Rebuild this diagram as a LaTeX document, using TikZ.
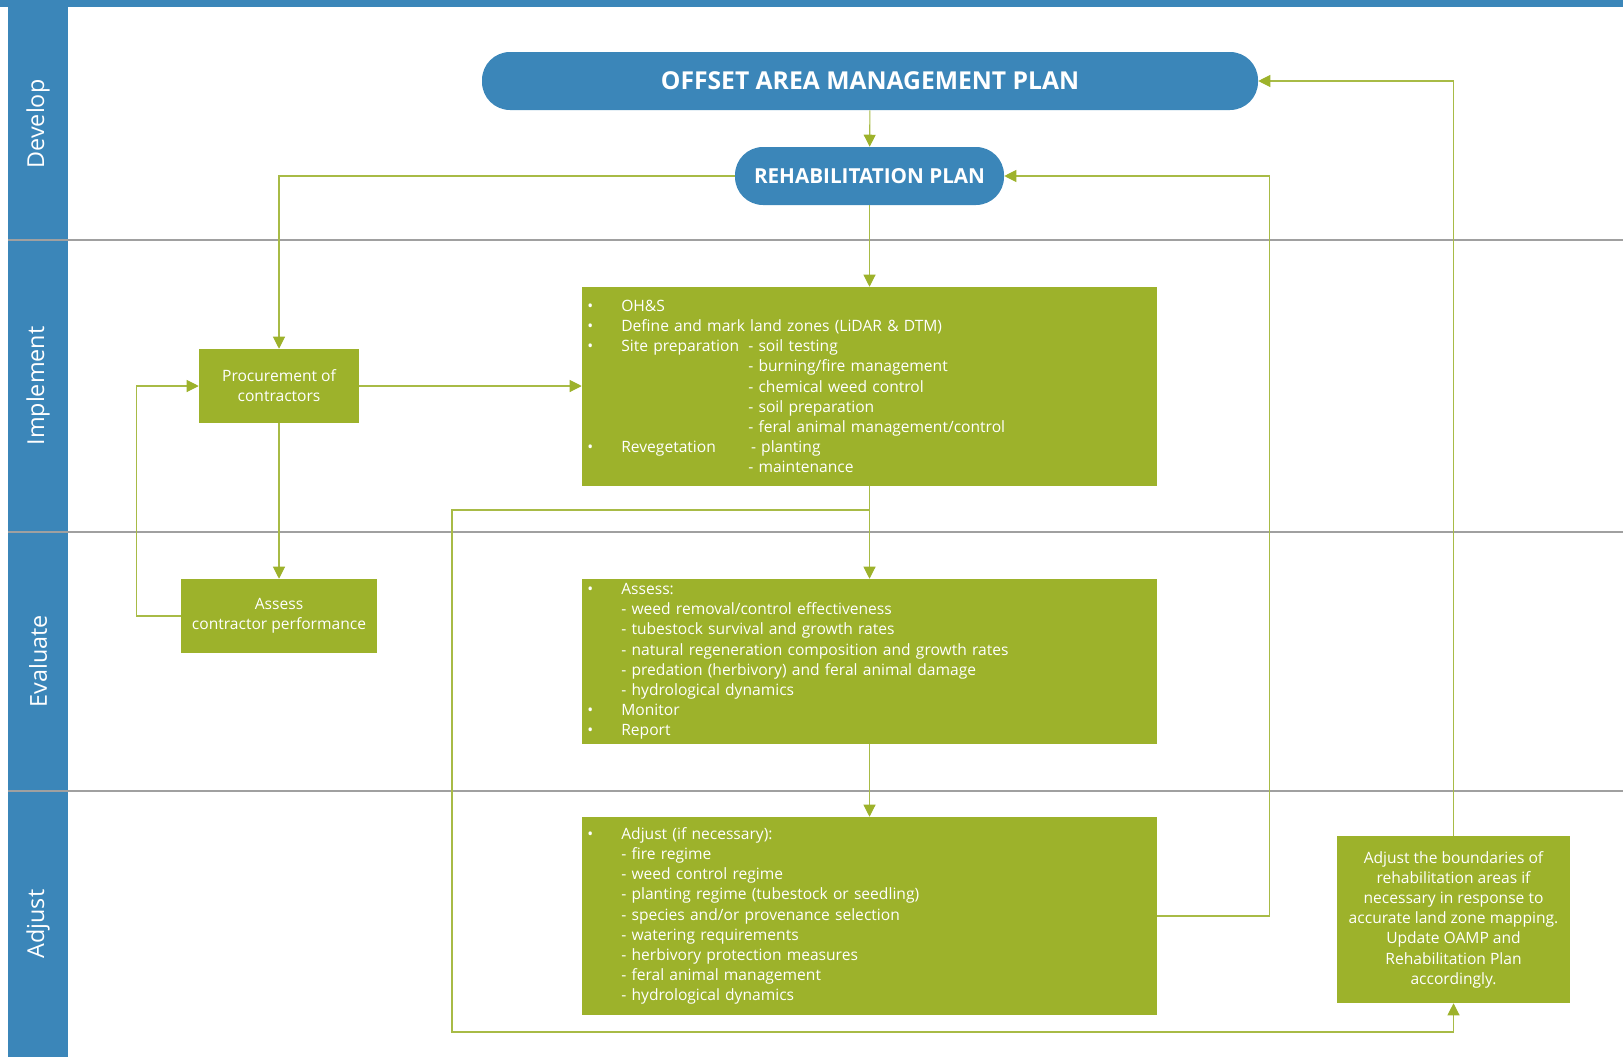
\documentclass[tikz,border=0pt]{standalone}
\usepackage{fontspec}
\setmainfont{Open Sans}
\usetikzlibrary{arrows.meta}
\definecolor{laneblue}{RGB}{59,134,185}
\definecolor{boxgreen}{RGB}{157,178,43}
\definecolor{linegreen}{RGB}{168,187,70}
\definecolor{lanegray}{RGB}{160,160,160}
\newcommand{\listbul}{\makebox[25.5pt][l]{\textbullet}}
\newcommand{\listind}{\hspace*{25.5pt}}
\newcommand{\listsub}{\hspace*{120.75pt}}

\begin{document}
\begin{tikzpicture}[x=0.75pt,y=-0.75pt,>={Triangle[length=9pt,width=9pt,color=boxgreen]}]
	\tikzstyle{lane_line}=[draw=lanegray,line width=1.1pt]
	\tikzstyle{lane_label}=[rotate=90,text=white,font=\fontsize{17.5}{20}\selectfont]
	\tikzstyle{plan_node}=[fill=laneblue,rounded corners=21pt,minimum height=43.5pt,text=white]
	\tikzstyle{step_node}=[fill=boxgreen,text=white,font=\fontsize{11.7}{15.15}\selectfont,align=center,inner sep=0pt]
	\tikzstyle{list_node}=[step_node,align=left,inner xsep=4pt,text width=423.25pt]
	\tikzstyle{link}=[draw=linegreen,line width=0.8pt]
	\useasboundingbox (0,0) rectangle (1623,1057);
	\fill[laneblue] (0,0) rectangle (1623,7);
	\fill[laneblue] (8,0) rectangle (68,1057);
	\foreach \y in {240,532,791}
		\draw[lane_line] (8,\y) -- (1623,\y);
	\node[lane_label] (lab_dev) at (38,124) {Develop};
	\node[lane_label] (lab_imp) at (38,386) {Implement};
	\node[lane_label] (lab_eval) at (38,661) {Evaluate};
	\node[lane_label] (lab_adj) at (38,924) {Adjust};
	\node[plan_node,minimum width=582pt,font=\bfseries\fontsize{18.5}{22}\selectfont] (oamp) at (870,81) {OFFSET AREA MANAGEMENT PLAN};
	\node[plan_node,minimum width=201.75pt,font=\bfseries\fontsize{15.5}{19}\selectfont] (rehab) at (869.5,176) {REHABILITATION PLAN};
	\node[step_node,minimum width=120pt,minimum height=55.5pt] (proc) at (279,386) {Procurement of\\contractors};
	\node[step_node,minimum width=147pt,minimum height=55.5pt] (assess) at (279,616) {Assess\\contractor performance};
	\node[list_node,minimum height=149.25pt] (impl) at (869.5,386.5) {
		\listbul OH\&S\\
		\listbul Define and mark land zones (LiDAR \& DTM)\\
		\listbul \makebox[95.25pt][l]{Site preparation}- soil testing\\
		\listsub - burning/fire management\\
		\listsub - chemical weed control\\
		\listsub - soil preparation\\
		\listsub - feral animal management/control\\
		\listbul \makebox[95.25pt][l]{Revegetation}\hspace{2pt}- planting\\
		\listsub - maintenance};
	\node[list_node,minimum height=123.75pt] (eval) at (869.5,661.5) {
		\listbul Assess:\\
		\listind - weed removal/control effectiveness\\
		\listind - tubestock survival and growth rates\\
		\listind - natural regeneration composition and growth rates\\
		\listind - predation (herbivory) and feral animal damage\\
		\listind - hydrological dynamics\\
		\listbul Monitor\\
		\listbul Report};
	\node[list_node,minimum height=148.5pt] (adj) at (869.5,916) {
		\listbul Adjust (if necessary):\\
		\listind - fire regime\\
		\listind - weed control regime\\
		\listind - planting regime (tubestock or seedling)\\
		\listind - species and/or provenance selection\\
		\listind - watering requirements\\
		\listind - herbivory protection measures\\
		\listind - feral animal management\\
		\listind - hydrological dynamics};
	\node[step_node,minimum width=174.75pt,minimum height=125.25pt] (bound) at (1453.5,919.5) {Adjust the boundaries of\\rehabilitation areas if\\necessary in response to\\accurate land zone mapping.\\Update OAMP and\\Rehabilitation Plan\\accordingly.};
	\coordinate (split) at (869.5,510);
	\coordinate (loop_bl) at (452,1032);
	\draw[link,->] (oamp) -- (rehab);
	\draw[link,->] (rehab.west) -| (proc.north);
	\draw[link,->] (rehab.south) -- (impl.north);
	\draw[link,->] (proc.east) -- (proc.east -| impl.west);
	\draw[link,->] (proc.south) -- (assess.north);
	\draw[link,->] (assess.west) -- ++(-44,0) |- (proc.west);
	\draw[link,->] (impl.south) -- (eval.north);
	\draw[link,->] (split) -| (loop_bl) -| (bound.south);
	\draw[link,->] (eval.south) -- (adj.north);
	\draw[link,->] (adj.east) -- ++(112,0) |- (rehab.east);
	\draw[link,->] (bound.north) |- (oamp.east);
\end{tikzpicture}
\end{document}
